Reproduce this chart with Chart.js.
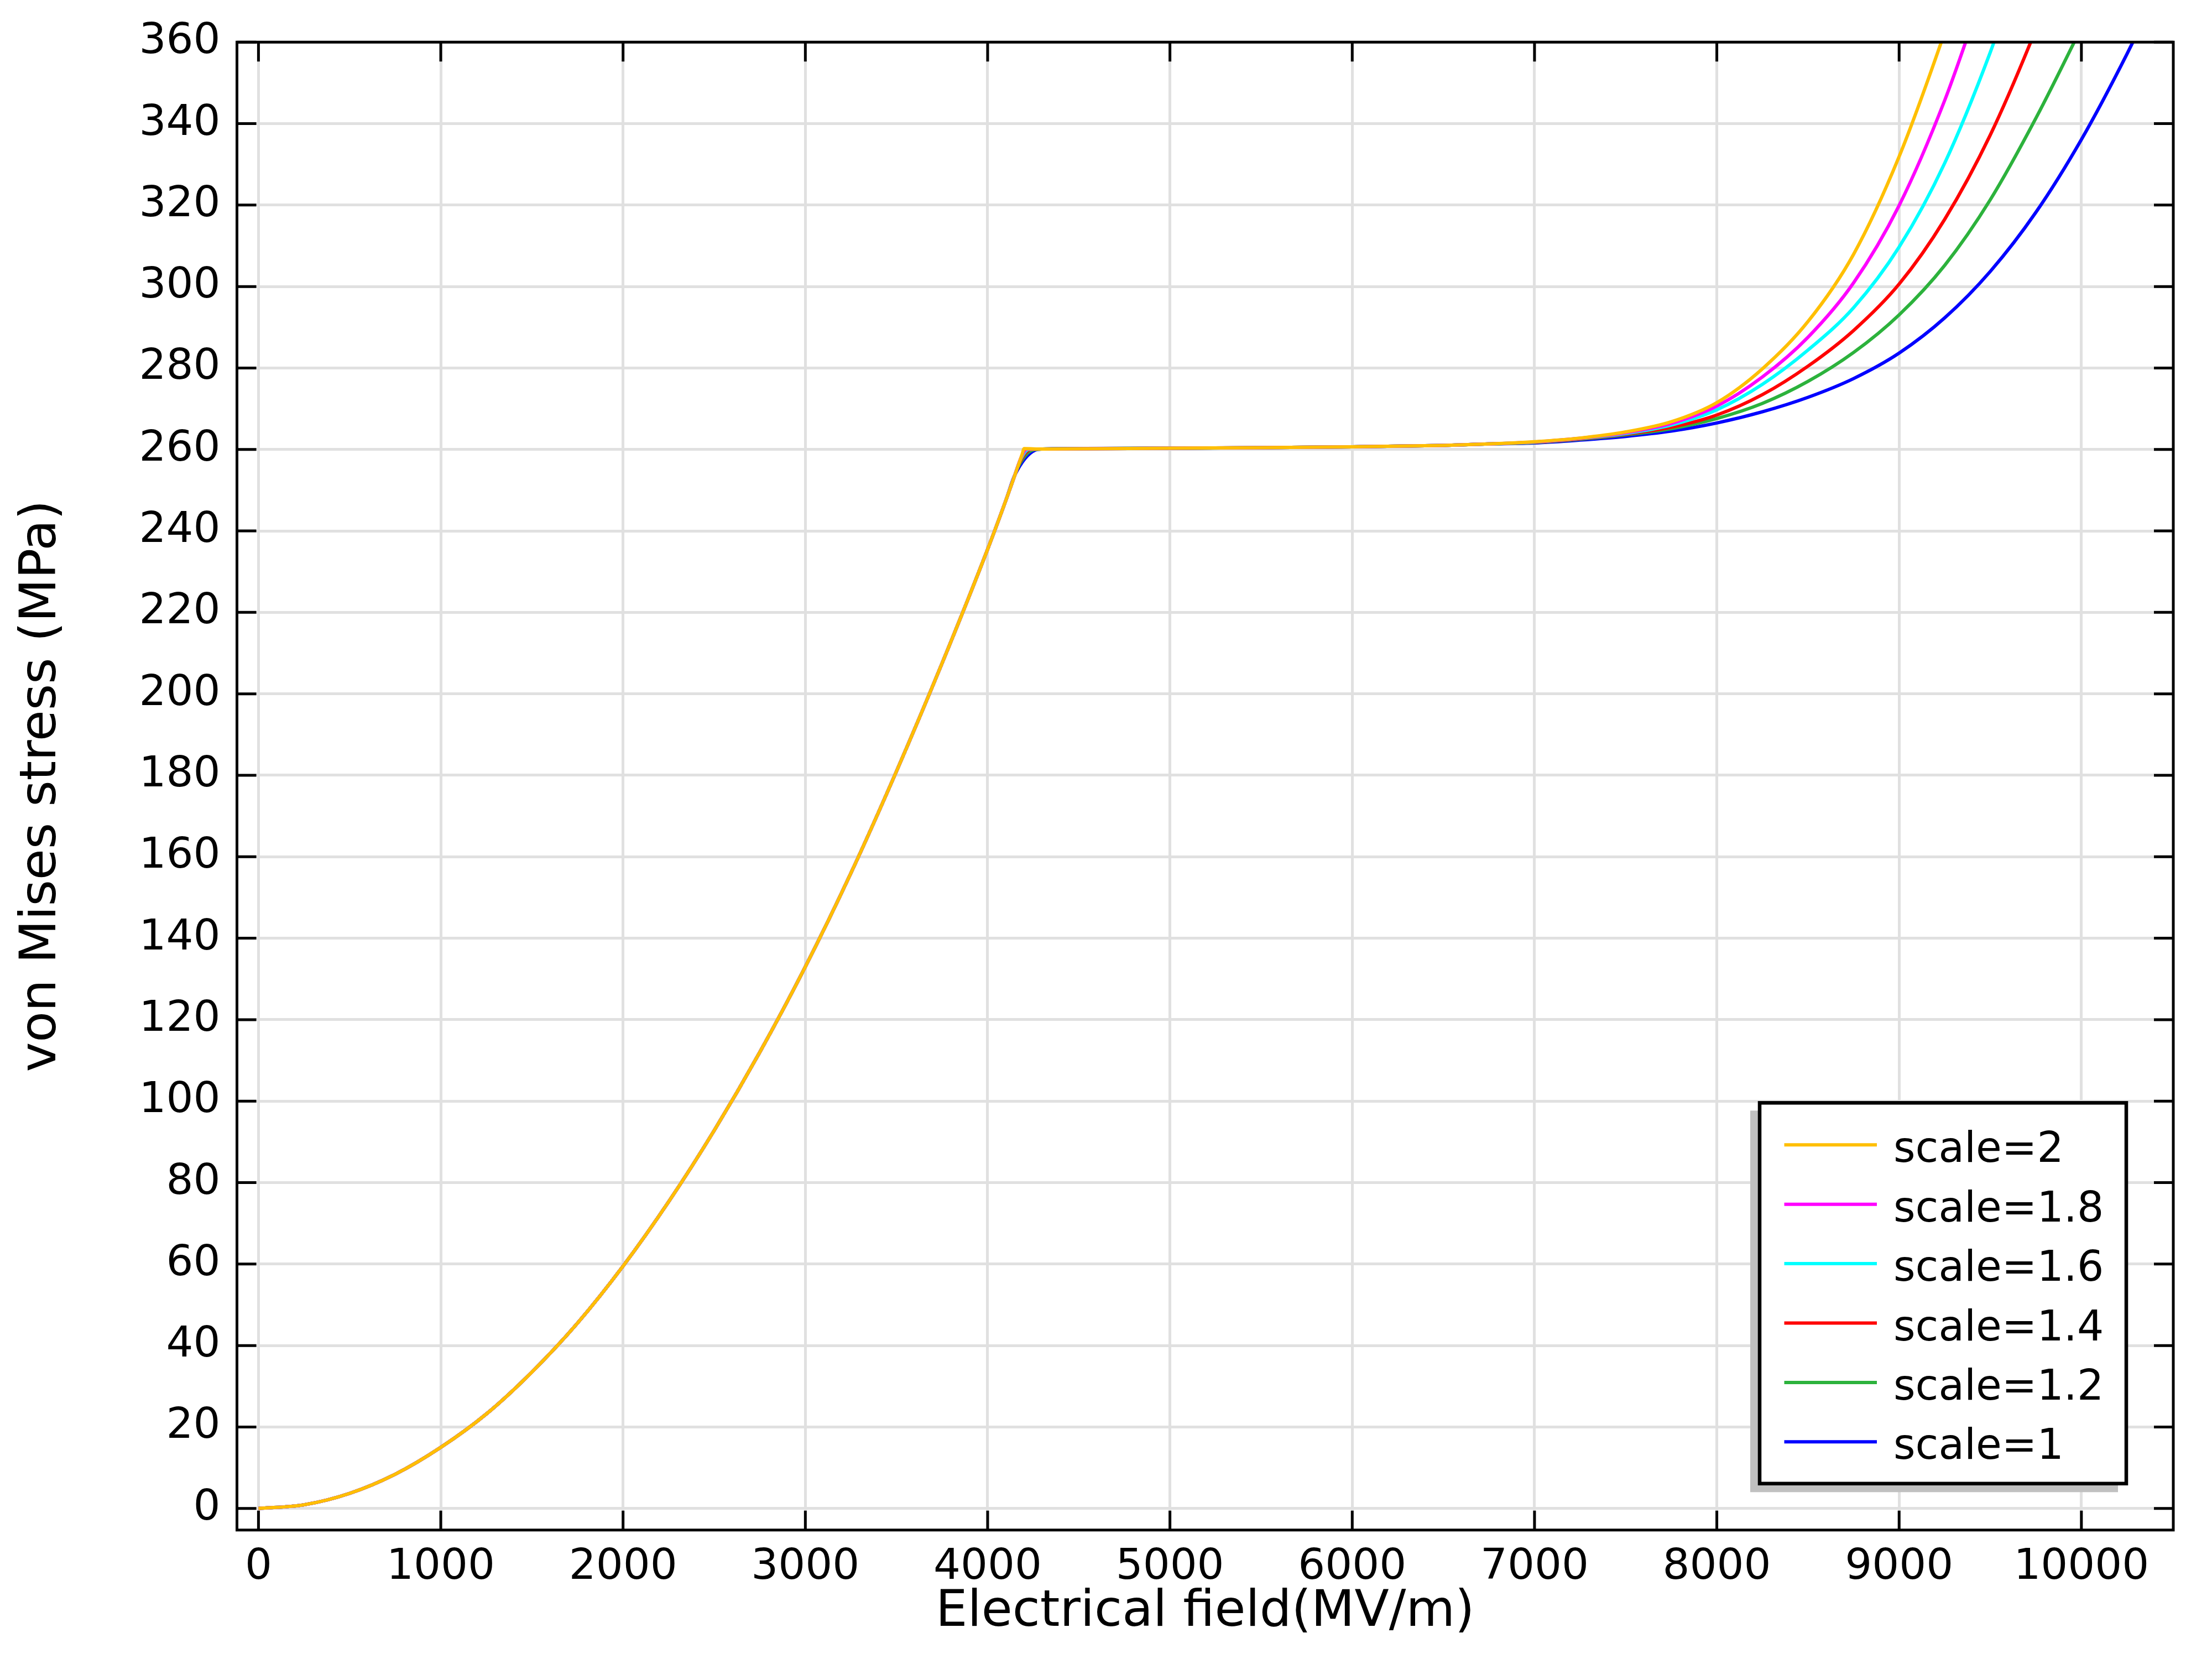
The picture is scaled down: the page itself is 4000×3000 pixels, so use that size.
<!DOCTYPE html>
<html>
<head>
<meta charset="utf-8">
<title>von Mises stress vs electrical field</title>
<script src="https://cdn.jsdelivr.net/npm/chart.js@4.4.0/dist/chart.umd.min.js"></script>
<style>
  html, body { margin: 0; padding: 0; background: #fff; }
  canvas { display: block; }
</style>
</head>
<body>
<canvas id="myChart" width="4000" height="3000"></canvas>
<script>
// axis ticks
const fieldTicks = [0, 1000, 2000, 3000, 4000, 5000, 6000, 7000, 8000, 9000, 10000];
const stressTicks = [0, 20, 40, 60, 80, 100, 120, 140, 160, 180, 200, 220, 240, 260, 280, 300, 320, 340, 360];

// elastic part, the same for every curve
const riseField = [0, 250, 500, 750, 1000, 1250, 1500, 1750, 2000, 2250, 2500, 2750, 3000, 3250, 3500, 3750, 4000, 4100, 4150];
const riseStress = [0, 0.9, 3.7, 8.4, 15.0, 23.2, 33.5, 45.5, 59.5, 75.3, 92.8, 112.0, 133.0, 156.0, 181.0, 207.5, 235.5, 247.5, 253.8];

// plateau after yield, also shared
const plateauField = [4300, 5000, 5500, 6000, 6500, 6750];
const plateauStress = [260.1, 260.3, 260.45, 260.65, 261.0, 261.35];

const seriesLabels = ['scale=2', 'scale=1.8', 'scale=1.6', 'scale=1.4', 'scale=1.2', 'scale=1'];
const seriesColors = ['rgb(255,191,0)', 'rgb(255,0,255)', 'rgb(0,255,255)', 'rgb(255,0,0)', 'rgb(44,178,60)', 'rgb(0,0,255)'];

// yield corner of each curve
const yieldField20 = [4190, 4200];
const yieldStress20 = [258.9, 260.2];
const yieldField18 = [4185, 4215];
const yieldStress18 = [258.2, 260.1];
const yieldField16 = [4178, 4225];
const yieldStress16 = [257.3, 260.0];
const yieldField14 = [4170, 4235];
const yieldStress14 = [256.3, 259.95];
const yieldField12 = [4162, 4248];
const yieldStress12 = [255.3, 259.9];
const yieldField10 = [4262];
const yieldStress10 = [259.85];

// hardening part of each curve
const hardField20 = [7000, 7250, 7500, 7750, 8000, 8250, 8500, 8750, 9000, 9250, 9350];
const hardStress20 = [261.9, 262.8, 264.3, 266.8, 271.5, 279.8, 291.4, 307.9, 331.9, 362.4, 376.0];
const hardField18 = [7000, 7250, 7500, 7750, 8000, 8250, 8500, 8750, 9000, 9250, 9450];
const hardStress18 = [261.85, 262.75, 264.1, 266.4, 270.65, 277.8, 287.55, 300.9, 319.9, 345.7, 371.0];
const hardField16 = [7000, 7250, 7500, 7750, 8000, 8250, 8500, 8750, 9000, 9250, 9500, 9600];
const hardStress16 = [261.8, 262.7, 263.9, 266.0, 269.75, 276.0, 284.4, 294.8, 309.7, 330.3, 357.5, 370.5];
const hardField14 = [7000, 7250, 7500, 7750, 8000, 8250, 8500, 8750, 9000, 9250, 9500, 9750, 9850];
const hardStress14 = [261.75, 262.6, 263.75, 265.45, 268.45, 273.45, 280.45, 289.2, 300.6, 316.5, 337.2, 363.1, 374.9];
const hardField12 = [7000, 7250, 7500, 7750, 8000, 8250, 8500, 8750, 9000, 9250, 9500, 9750, 10000, 10100];
const hardStress12 = [261.7, 262.5, 263.6, 265.1, 267.6, 271.3, 276.7, 283.8, 293.05, 305.2, 321.3, 341.3, 363.6, 372.9];
const hardField10 = [7000, 7250, 7500, 7750, 8000, 8250, 8500, 8750, 9000, 9250, 9500, 9750, 10000, 10250, 10400];
const hardStress10 = [261.6, 262.3, 263.2, 264.5, 266.5, 269.25, 272.8, 277.4, 283.65, 292.3, 303.7, 318.2, 336.1, 357.1, 371.05];

const seriesParts = [
  [yieldField20, yieldStress20, hardField20, hardStress20],
  [yieldField18, yieldStress18, hardField18, hardStress18],
  [yieldField16, yieldStress16, hardField16, hardStress16],
  [yieldField14, yieldStress14, hardField14, hardStress14],
  [yieldField12, yieldStress12, hardField12, hardStress12],
  [yieldField10, yieldStress10, hardField10, hardStress10]
];

function toPoints(xs, ys) {
  return xs.map(function (x, i) { return {x: x, y: ys[i]}; });
}

const datasets = seriesLabels.map(function (label, i) {
  const p = seriesParts[i];
  return {
    label: label,
    borderColor: seriesColors[i],
    backgroundColor: seriesColors[i],
    borderWidth: 6,
    pointRadius: 0,
    fill: false,
    clip: 0,
    cubicInterpolationMode: 'monotone',
    data: [].concat(
      toPoints(riseField, riseStress),
      toPoints(p[0], p[1]),
      toPoints(plateauField, plateauStress),
      toPoints(p[2], p[3])
    )
  };
});

// box round the plot and inner tick marks on all four sides
const frame = {
  id: 'frame',
  afterDatasetsDraw(chart) {
    const ctx = chart.ctx;
    const a = chart.chartArea;
    const x = chart.scales.x;
    const y = chart.scales.y;
    const len = 35;
    ctx.save();
    ctx.strokeStyle = '#000';
    ctx.lineWidth = 5;
    ctx.beginPath();
    x.ticks.forEach(function (t) {
      const px = x.getPixelForValue(t.value);
      ctx.moveTo(px, a.bottom); ctx.lineTo(px, a.bottom - len);
      ctx.moveTo(px, a.top); ctx.lineTo(px, a.top + len);
    });
    y.ticks.forEach(function (t) {
      const py = y.getPixelForValue(t.value);
      ctx.moveTo(a.left, py); ctx.lineTo(a.left + len, py);
      ctx.moveTo(a.right, py); ctx.lineTo(a.right - len, py);
    });
    ctx.stroke();
    ctx.strokeRect(a.left, a.top, a.right - a.left, a.bottom - a.top);
    ctx.restore();
  }
};

// legend box with drop shadow, lower right inside the plot
const legendBox = {
  id: 'legendBox',
  afterDraw(chart) {
    const ctx = chart.ctx;
    const a = chart.chartArea;
    const w = 663, h = 688.5;
    const bx = a.right - 85 - w;
    const by = a.bottom - 84 - h;
    ctx.save();
    ctx.fillStyle = 'rgb(192,192,192)';
    ctx.fillRect(bx - 17, by + 14, w + 2, h + 1.5);
    ctx.fillStyle = '#fff';
    ctx.fillRect(bx, by, w, h);
    ctx.strokeStyle = '#000';
    ctx.lineWidth = 6.5;
    ctx.strokeRect(bx, by, w, h);
    ctx.font = "76px 'DejaVu Sans'";
    ctx.textAlign = 'left';
    ctx.textBaseline = 'alphabetic';
    chart.data.datasets.forEach(function (ds, i) {
      const rowY = by + 76 + i * 107.4;
      ctx.strokeStyle = ds.borderColor;
      ctx.lineWidth = 6;
      ctx.beginPath();
      ctx.moveTo(bx + 44.5, rowY);
      ctx.lineTo(bx + 212, rowY);
      ctx.stroke();
      ctx.fillStyle = '#000';
      ctx.fillText(ds.label, bx + 242, rowY + 31);
    });
    ctx.restore();
  }
};

Chart.defaults.font.family = "'DejaVu Sans'";
Chart.defaults.color = '#000';

const config = {
  type: 'line',
  data: { datasets: datasets },
  options: {
    responsive: false,
    devicePixelRatio: 1,
    animation: false,
    layout: { padding: { left: 0, top: 70.2, right: 70, bottom: 0 } },
    plugins: {
      legend: { display: false },
      tooltip: { enabled: false }
    },
    scales: {
      x: {
        type: 'linear',
        bounds: 'data',
        min: -118,
        max: 10504,
        afterBuildTicks: function (scale) {
          scale.ticks = fieldTicks.map(function (v) { return {value: v}; });
        },
        afterFit: function (scale) { scale.height = 233.2; },
        ticks: {
          autoSkip: false,
          maxRotation: 0,
          padding: 22,
          color: '#000',
          font: { size: 77, lineHeight: 1.2 },
          callback: function (v) { return String(v); }
        },
        grid: { color: 'rgb(224,224,224)', lineWidth: 5, drawTicks: false },
        border: { display: false },
        title: {
          display: true,
          text: 'Electrical field(MV/m)',
          color: '#000',
          font: { size: 91, lineHeight: 1.2 },
          padding: { top: 0, bottom: 28.6 }
        }
      },
      y: {
        type: 'linear',
        bounds: 'data',
        min: -5.3,
        max: 360,
        afterBuildTicks: function (scale) {
          scale.ticks = stressTicks.map(function (v) { return {value: v}; });
        },
        afterFit: function (scale) { scale.width = 428.5; },
        ticks: {
          autoSkip: false,
          padding: 30,
          color: '#000',
          font: { size: 77, lineHeight: 1.2 },
          callback: function (v) { return String(v); }
        },
        grid: { color: 'rgb(224,224,224)', lineWidth: 5, drawTicks: false },
        border: { display: false },
        title: {
          display: true,
          text: 'von Mises stress (MPa)',
          color: '#000',
          font: { size: 91, lineHeight: 1.2 },
          padding: { top: 22, bottom: 0 }
        }
      }
    }
  },
  plugins: [frame, legendBox]
};

const myChart = new Chart(document.getElementById('myChart'), config);
</script>
</body>
</html>
